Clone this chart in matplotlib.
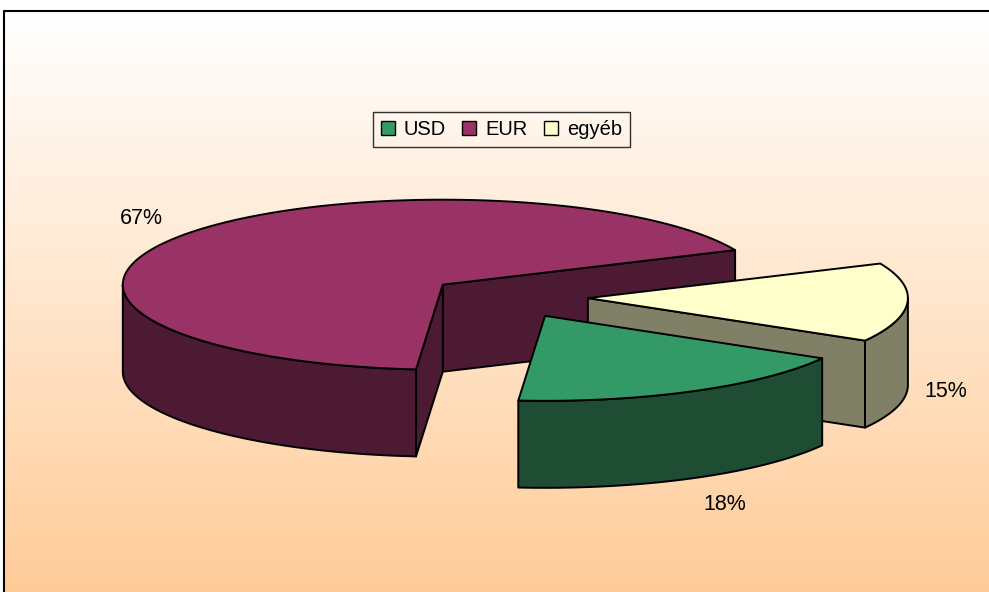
import matplotlib
matplotlib.use('Agg')
import matplotlib.pyplot as plt
import numpy as np
from matplotlib.patches import Polygon, Patch
from matplotlib.colors import LinearSegmentedColormap

plt.rcParams['font.family'] = ['Liberation Sans', 'DejaVu Sans']

# adatok
labels = ['USD', 'EUR', 'egyéb']
values = [18, 67, 15]
top_colors = ['#339966', '#993366', '#FFFFCC']
side_colors = ['#1F4D33', '#4D1A33', '#808066']
label_r = [1.21, 1.155, 1.12]  # címkék távolsága (sugár arányában)

W, H = 989, 592
fig = plt.figure(figsize=(W / 100, H / 100), dpi=100)
ax = fig.add_axes([0, 0, 1, 1])

# háttér színátmenet
grad = np.linspace(0, 1, 256).reshape(-1, 1)
cmap = LinearSegmentedColormap.from_list('bg', ['#FFFFFF', '#FFCC99'])
ax.imshow(grad, cmap=cmap, extent=[4, W + 10, H, 11], aspect='auto', zorder=0)
ax.plot([4, 4, W + 10], [H + 10, 11, 11], color='black', lw=1.5, zorder=1)

# 3D torta geometria (pixelben)
cx, cy = 508, 297
rx, ry = 320, 85
depth = 87
explode = 0.25
first_angle = 120  # fokban, 12 órától az óramutató irányába


def rim(a, ox, oy, dz=0):
    t = np.radians(a)
    return ox + rx * np.cos(t), oy - ry * np.sin(t) + dz


def arc(a0, a1, ox, oy, dz=0):
    n = max(int(abs(a1 - a0)) + 2, 3)
    aa = np.linspace(a0, a1, n)
    return [rim(a, ox, oy, dz) for a in aa]


total = sum(values)
start = 90 - first_angle
slices = []
for i, v in enumerate(values):
    span = 360 * v / total
    a_hi = start
    a_lo = start - span
    start = a_lo
    mid = (a_lo + a_hi) / 2
    t = np.radians(mid)
    ox = cx + explode * rx * np.cos(t)
    oy = cy - explode * ry * np.sin(t)
    slices.append(dict(i=i, lo=a_lo, hi=a_hi, mid=mid, ox=ox, oy=oy))

z = 2
for s in sorted(slices, key=lambda s: s['oy']):
    i, lo, hi, ox, oy = s['i'], s['lo'], s['hi'], s['ox'], s['oy']
    kw = dict(edgecolor='black', linewidth=1.4, joinstyle='round')

    # vágott oldallapok
    faces = []
    if np.sin(np.radians(lo - 90)) < 0:
        faces.append(lo)
    if np.sin(np.radians(hi + 90)) < 0:
        faces.append(hi)
    faces.sort(key=lambda a: rim(a, ox, oy)[1])
    for a in faces:
        p = rim(a, ox, oy)
        poly = [(ox, oy), p, (p[0], p[1] + depth), (ox, oy + depth)]
        ax.add_patch(Polygon(poly, closed=True, facecolor=side_colors[i], zorder=z, **kw))
        z += 1

    # palást (látható első fele)
    for k in range(-3, 3):
        f0, f1 = 180 + 360 * k, 360 + 360 * k
        a0, a1 = max(lo, f0), min(hi, f1)
        if a1 > a0:
            top = arc(a0, a1, ox, oy)
            bot = arc(a1, a0, ox, oy, depth)
            ax.add_patch(Polygon(top + bot, closed=True, facecolor=side_colors[i], zorder=z, **kw))
            z += 1

    # fedőlap
    poly = [(ox, oy)] + arc(lo, hi, ox, oy)
    ax.add_patch(Polygon(poly, closed=True, facecolor=top_colors[i], zorder=z, **kw))
    z += 1

    # címke
    t = np.radians(s['mid'])
    lx = ox + label_r[i] * rx * np.cos(t)
    ly = oy - 1.35 * ry * np.sin(t) + (depth if np.sin(t) < 0 else 0)
    ax.text(lx, ly, f"{values[i] / total * 100:.0f}%", fontsize=15.5,
            ha='center', va='center', zorder=50)

handles = [Patch(facecolor=c, edgecolor='black', linewidth=1) for c in top_colors]
leg = ax.legend(handles, labels, ncol=3, loc='center',
                bbox_to_anchor=(501.5 / W, 1 - 129.5 / H), bbox_transform=fig.transFigure,
                fontsize=14.5, frameon=True, fancybox=False, edgecolor='black',
                facecolor='none', handlelength=0.7, handleheight=0.7,
                handletextpad=0.45, columnspacing=0.8, borderpad=0.4, borderaxespad=0)
leg.get_frame().set_linewidth(1)

ax.set_xlim(0, W)
ax.set_ylim(H, 0)
ax.axis('off')

fig.savefig('out.png', dpi=100)
